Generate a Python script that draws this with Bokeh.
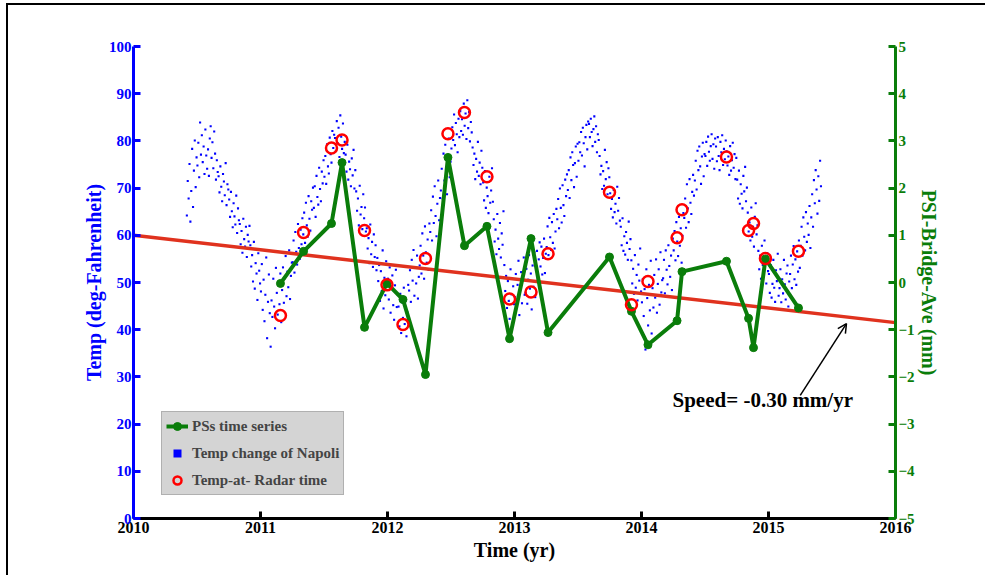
import numpy as np
from bokeh.plotting import figure
from bokeh.models import (Range1d, LinearAxis, Legend, LegendItem, Label, Arrow,
                          OpenHead, FixedTicker)
from bokeh.embed import file_html
from bokeh.resources import INLINE

# ---------------- data ----------------
x_ticks = [2010, 2011, 2012, 2013, 2014, 2015, 2016]
temp_ticks = [0, 10, 20, 30, 40, 50, 60, 70, 80, 90, 100]
mm_ticks = [-5, -4, -3, -2, -1, 0, 1, 2, 3, 4, 5]

radar_years = [2011.157, 2011.339, 2011.559, 2011.642, 2011.819, 2011.996, 2012.122,
               2012.299, 2012.476, 2012.606, 2012.783, 2012.961, 2013.130, 2013.264,
               2013.748, 2013.921, 2014.051, 2014.280, 2014.319, 2014.669, 2014.843,
               2014.882, 2014.976, 2015.236]
ps_mm = [-0.02, 0.66, 1.25, 2.54, -0.95, -0.02, -0.36, -1.95, 2.65, 0.78, 1.19, -1.19,
         0.93, -1.06, 0.54, -0.61, -1.32, -0.81, 0.23, 0.45, -0.76, -1.38, 0.50, -0.54]
radar_temp = [43.0, 60.6, 78.5, 80.2, 61.0, 49.5, 41.1, 55.1, 81.5, 86.0, 72.4, 46.5,
              48.0, 56.1, 69.1, 45.3, 50.2, 59.5, 65.4, 76.6, 61.0, 62.5, 55.1, 56.6]

trend_years = [2010, 2016]
trend_mm = [1.0, -0.85]

# Temperature of Napoli: 12 readings per month, June 2010 - May 2015 (deg F)
temp_first_month = 2010 + 5 / 12
temp_per_month = 12
temp_f = [
    64.2, 71.5, 67.8, 75.1, 62.9, 69.4, 78.3, 66.0, 73.7, 80.1, 70.2, 76.5,   # Jun 2010
    74.8, 79.6, 72.3, 83.9, 77.1, 81.2, 75.5, 78.8, 73.0, 82.4, 76.9, 74.1,   # Jul
    78.2, 72.6, 80.5, 83.1, 76.4, 79.7, 74.2, 82.0, 77.3, 71.8, 75.9, 73.4,   # Aug
    72.5, 69.1, 74.6, 70.3, 67.2, 73.0, 71.4, 68.5, 75.3, 66.4, 70.8, 69.7,   # Sep
    67.6, 63.9, 69.2, 65.1, 61.7, 66.8, 64.0, 62.3, 68.4, 60.5, 65.7, 63.2,   # Oct
    62.4, 58.1, 60.9, 56.3, 63.5, 59.2, 57.6, 61.8, 55.4, 60.1, 58.7, 62.0,   # Nov
    57.9, 53.4, 55.8, 50.2, 58.6, 48.7, 54.1, 51.9, 46.3, 56.2, 52.5, 49.8,   # Dec
    48.1, 53.9, 44.2, 50.6, 41.8, 47.4, 55.3, 38.2, 45.9, 51.7, 43.5, 36.4,   # Jan 2011
    46.2, 42.7, 50.8, 44.9, 40.3, 53.1, 47.8, 43.2, 49.6, 45.4, 51.9, 41.6,   # Feb
    48.4, 53.2, 45.7, 50.9, 55.6, 47.1, 52.3, 49.0, 56.8, 46.5, 51.4, 54.2,   # Mar
    54.3, 58.9, 52.1, 60.7, 56.5, 53.8, 62.4, 57.3, 55.0, 61.2, 58.1, 63.6,   # Apr
    60.2, 64.8, 58.4, 66.9, 62.1, 59.7, 68.3, 63.5, 61.0, 67.2, 65.4, 70.1,   # May
    65.8, 70.4, 63.9, 72.6, 68.1, 66.5, 74.3, 69.8, 67.2, 73.5, 71.0, 75.9,   # Jun
    72.4, 76.8, 70.9, 79.3, 74.6, 73.1, 80.7, 77.2, 75.4, 82.1, 78.5, 81.3,   # Jul
    80.6, 77.9, 84.2, 79.5, 82.8, 76.6, 85.4, 80.9, 78.3, 83.7, 77.4, 79.8,   # Aug
    77.1, 73.5, 79.2, 71.8, 75.6, 74.0, 70.4, 76.3, 72.7, 78.1, 69.9, 73.8,   # Sep
    69.3, 65.2, 67.8, 62.1, 70.5, 64.4, 66.0, 61.3, 68.7, 63.6, 65.9, 60.8,   # Oct
    61.5, 57.2, 59.4, 54.1, 62.3, 56.0, 58.6, 53.3, 60.2, 55.4, 57.9, 52.6,   # Nov
    55.2, 50.3, 53.7, 46.1, 52.4, 48.2, 56.8, 44.5, 51.0, 47.3, 54.5, 49.6,   # Dec
    50.8, 46.4, 53.2, 43.6, 48.7, 51.5, 45.2, 42.1, 49.4, 52.7, 44.8, 47.5,   # Jan 2012
    44.9, 40.7, 47.6, 39.3, 45.8, 42.5, 48.9, 41.2, 46.3, 38.6, 43.7, 49.5,   # Feb
    48.3, 52.6, 45.9, 54.8, 50.4, 56.9, 47.2, 53.1, 49.8, 55.7, 46.6, 51.2,   # Mar
    53.6, 57.8, 51.9, 60.4, 55.7, 50.8, 61.9, 56.4, 54.2, 59.1, 52.7, 62.5,   # Apr
    60.7, 65.3, 58.9, 68.2, 62.6, 70.4, 64.1, 59.8, 66.7, 71.6, 63.2, 67.9,   # May
    69.5, 74.1, 67.8, 77.3, 71.6, 79.2, 73.8, 68.7, 76.4, 80.5, 72.3, 75.6,   # Jun
    78.4, 82.9, 80.2, 85.6, 79.1, 83.8, 81.4, 77.6, 84.7, 80.8, 86.3, 82.1,   # Jul
    84.6, 81.3, 87.9, 83.2, 85.8, 80.4, 88.6, 82.7, 86.1, 79.9, 84.0, 81.8,   # Aug
    78.6, 74.9, 77.3, 71.9, 76.2, 73.5, 79.8, 72.6, 75.4, 70.8, 77.9, 74.3,   # Sep
    71.2, 67.4, 73.6, 65.8, 70.1, 68.3, 64.7, 72.4, 66.9, 69.5, 74.2, 67.1,   # Oct
    63.4, 58.7, 61.2, 56.0, 64.5, 59.3, 57.1, 62.6, 55.3, 60.4, 58.0, 65.1,   # Nov
    53.7, 48.2, 51.4, 44.6, 50.3, 46.1, 42.3, 52.8, 47.5, 41.0, 49.2, 45.4,   # Dec
    46.9, 51.8, 44.7, 49.5, 54.6, 43.1, 48.8, 52.2, 45.6, 50.7, 55.3, 47.4,   # Jan 2013
    47.8, 52.9, 45.5, 50.6, 55.8, 48.7, 51.9, 44.3, 53.6, 49.1, 56.4, 46.9,   # Feb
    52.6, 56.7, 50.8, 54.9, 58.5, 53.4, 57.6, 51.7, 55.2, 59.3, 52.0, 56.1,   # Mar
    57.5, 61.9, 55.8, 63.7, 59.6, 56.9, 62.8, 58.4, 64.5, 57.2, 60.8, 65.6,   # Apr
    63.4, 67.7, 61.5, 69.9, 65.8, 62.7, 70.6, 66.4, 64.1, 71.8, 68.3, 72.9,   # May
    69.6, 73.8, 67.9, 76.5, 71.7, 77.6, 74.9, 70.2, 75.3, 78.8, 72.4, 79.4,   # Jun
    75.8, 79.7, 77.6, 81.9, 76.9, 82.8, 79.5, 74.6, 80.8, 83.4, 78.2, 84.1,   # Jul
    83.6, 80.8, 84.7, 81.9, 78.9, 82.5, 85.2, 79.8, 83.1, 77.6, 81.4, 80.2,   # Aug
    76.8, 72.9, 74.7, 69.8, 73.6, 70.5, 78.1, 71.9, 75.5, 68.7, 74.2, 72.3,   # Sep
    68.9, 65.6, 67.7, 63.8, 69.6, 64.9, 66.7, 62.5, 70.3, 65.2, 67.9, 63.1,   # Oct
    61.8, 57.9, 63.6, 56.7, 59.8, 55.9, 60.7, 58.4, 54.8, 62.9, 57.1, 59.2,   # Nov
    54.7, 49.8, 52.9, 47.6, 55.8, 48.9, 51.6, 46.2, 53.8, 50.4, 57.2, 48.1,   # Dec
    45.8, 50.7, 42.9, 48.6, 35.8, 52.8, 46.7, 40.9, 49.5, 44.1, 54.6, 39.2,   # Jan 2014
    48.8, 44.7, 51.6, 46.8, 54.9, 43.6, 49.7, 52.8, 45.3, 56.4, 47.9, 50.5,   # Feb
    50.9, 54.8, 47.7, 56.8, 52.7, 49.6, 57.9, 53.5, 51.2, 55.7, 48.4, 59.3,   # Mar
    56.8, 60.9, 54.7, 62.8, 58.7, 55.6, 63.9, 57.8, 61.5, 54.2, 59.9, 64.7,   # Apr
    63.7, 67.8, 61.6, 70.8, 65.7, 62.8, 71.9, 66.9, 64.5, 69.2, 72.8, 68.4,   # May
    71.6, 75.8, 69.7, 77.9, 73.8, 78.8, 74.6, 70.9, 76.7, 79.6, 72.5, 77.2,   # Jun
    76.8, 79.8, 74.7, 80.9, 77.7, 75.8, 78.9, 81.4, 76.2, 79.3, 74.1, 80.5,   # Jul
    78.8, 75.7, 80.8, 76.8, 73.8, 79.8, 77.6, 81.2, 74.9, 78.3, 76.1, 80.1,   # Aug
    77.8, 74.8, 76.7, 72.8, 78.9, 73.7, 75.9, 79.6, 74.3, 77.2, 71.9, 76.4,   # Sep
    71.8, 67.8, 73.7, 66.7, 70.8, 68.8, 65.7, 72.6, 69.3, 74.5, 67.2, 70.1,   # Oct
    64.8, 60.8, 62.7, 58.9, 65.9, 59.7, 61.8, 57.6, 63.9, 66.8, 60.2, 62.1,   # Nov
    56.7, 52.8, 55.7, 50.8, 57.8, 53.7, 51.9, 58.9, 54.6, 49.8, 56.2, 52.4,   # Dec
    51.8, 47.8, 53.7, 46.8, 49.7, 54.8, 48.9, 45.9, 52.6, 50.3, 56.1, 47.2,   # Jan 2015
    48.8, 52.8, 45.8, 50.7, 47.7, 54.8, 49.6, 46.4, 51.9, 53.6, 44.9, 50.2,   # Feb
    51.8, 55.7, 48.8, 53.8, 57.7, 50.7, 54.9, 49.5, 56.6, 52.3, 58.9, 53.1,   # Mar
    57.8, 61.8, 55.7, 63.8, 59.7, 56.8, 64.9, 58.6, 62.5, 60.1, 66.2, 57.3,   # Apr
    63.8, 68.7, 61.8, 71.7, 66.8, 73.8, 69.7, 64.6, 72.5, 67.3, 75.8, 70.4,   # May
]
temp_years = [temp_first_month + (i // temp_per_month) / 12
              + ((i % temp_per_month) + 0.5) / (12 * temp_per_month)
              for i in range(len(temp_f))]

# ---------------- figure ----------------
SERIF = "Liberation Serif"
GREEN = "#0a7d0a"

# the host background paints only a top and a left frame line
frame_styles = {
    "margin-left": "6px",
    "margin-top": "3px",
    "background-image": "linear-gradient(#000000, #000000), linear-gradient(#000000, #000000)",
    "background-size": "100% 2px, 2px 100%",
    "background-repeat": "no-repeat",
    "background-position": "0px 0px, 0px 0px",
}

p = figure(width=979, height=572, x_range=Range1d(2010, 2016), y_range=Range1d(0, 100),
           output_backend="svg", toolbar_location=None,
           min_border_left=127, min_border_right=90, min_border_top=43, min_border_bottom=57,
           styles=frame_styles)
p.extra_y_ranges = {"mm": Range1d(-5, 5)}
p.grid.visible = False
p.outline_line_color = None
p.background_fill_color = "white"
p.border_fill_color = None


def style_axis(ax, color, size, standoff, label_size, label_standoff):
    ax.axis_line_width = 3
    ax.axis_line_color = color
    ax.major_tick_in = 7
    ax.major_tick_out = 0
    ax.major_tick_line_width = 3
    ax.major_tick_line_color = color
    ax.minor_tick_line_color = None
    ax.major_label_standoff = standoff
    ax.major_label_text_font = SERIF
    ax.major_label_text_font_style = "bold"
    ax.major_label_text_font_size = size
    ax.major_label_text_color = color
    ax.axis_label_text_font = SERIF
    ax.axis_label_text_font_style = "bold"
    ax.axis_label_text_font_size = label_size
    ax.axis_label_text_color = color
    ax.axis_label_standoff = label_standoff


xa = p.xaxis[0]
xa.ticker = FixedTicker(ticks=x_ticks)
xa.axis_label = "Time (yr)"
style_axis(xa, "black", "16px", 3, "20px", 3)

ya = p.yaxis[0]
ya.ticker = FixedTicker(ticks=temp_ticks)
ya.axis_label = "Temp (deg-Fahrenheit)"
style_axis(ya, "blue", "15px", 2, "20px", 1)

ra = LinearAxis(y_range_name="mm", ticker=FixedTicker(ticks=mm_ticks),
                axis_label="PSI-Bridge-Ave (mm)")
style_axis(ra, GREEN, "15px", 3, "20px", 0)
p.add_layout(ra, "right")

# ---------------- glyphs ----------------
dots = p.scatter(temp_years, temp_f, marker="square", size=2.1, line_color=None,
                 fill_color="blue")
# legend key only (point lies outside the visible x range)
dots_key = p.scatter(x=[2000], y=[50], marker="square", size=2.5, line_color=None,
                     fill_color="blue")
p.line(trend_years, trend_mm, y_range_name="mm", line_color="#e0321e", line_width=3.5)
ps_line = p.line(radar_years, ps_mm, y_range_name="mm", line_color=GREEN, line_width=4)
ps_pts = p.scatter(radar_years, ps_mm, y_range_name="mm", size=8, marker="circle",
                   fill_color=GREEN, line_color=GREEN)
circ = p.scatter(radar_years, radar_temp, size=11, marker="circle", fill_color=None,
                 line_color="red", line_width=2.5)

p.add_layout(Arrow(end=OpenHead(size=9, line_width=1.5, line_color="black"),
                   x_start=2015.25, y_start=-2.39, x_end=2015.614, y_end=-0.87,
                   y_range_name="mm", line_width=1.5, line_color="black"))
p.add_layout(Label(x=2014.244, y=-2.48, y_range_name="mm", text="Speed= -0.30 mm/yr",
                   text_font=SERIF, text_font_style="bold", text_font_size="21px",
                   text_color="black", text_baseline="middle", text_align="left"))

legend = Legend(items=[LegendItem(label="PSs time series", renderers=[ps_line, ps_pts]),
                       LegendItem(label="Temp change of Napoli", renderers=[dots_key]),
                       LegendItem(label="Temp-at- Radar time", renderers=[circ])],
                location=(28, 23), orientation="vertical")
legend.background_fill_color = "#d4d4d4"
legend.background_fill_alpha = 1
legend.border_line_color = "#8c8c8c"
legend.border_line_width = 1
legend.label_text_font = SERIF
legend.label_text_font_style = "bold"
legend.label_text_font_size = "15px"
legend.glyph_width = 22
legend.glyph_height = 20
legend.label_height = 20
legend.spacing = 7
legend.padding = 4
legend.label_standoff = 4
legend.margin = 0
p.add_layout(legend)

open("out.html", "w").write(file_html(p, INLINE))
